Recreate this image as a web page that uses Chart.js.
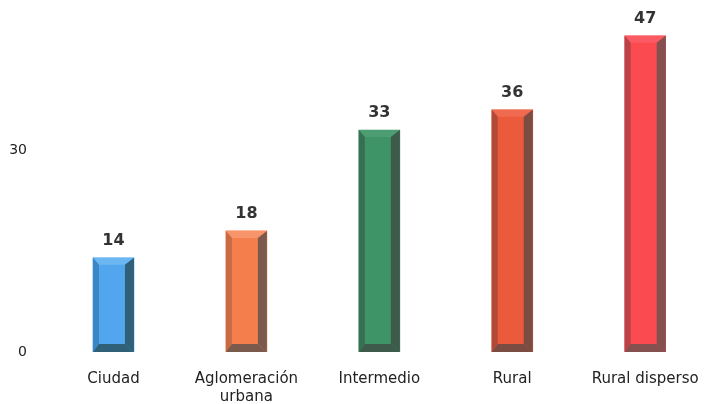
<!DOCTYPE html>
<html>
<head>
<meta charset="utf-8">
<script src="https://cdn.jsdelivr.net/npm/chart.js@4/dist/chart.umd.min.js"></script>
<style>
  html, body { margin: 0; padding: 0; background: #fff; }
  #wrap { width: 705px; height: 404px; position: relative; }
</style>
</head>
<body>
<div id="wrap"><canvas id="chart"></canvas></div>
<script>
const categories = ['Ciudad', ['Aglomeración', 'urbana'], 'Intermedio', 'Rural', 'Rural disperso'];
const values = [14, 18, 33, 36, 47];
const yTicks = [0, 30];

// face / light edge / dark edge per bar
const faceColors = ['#52a6ee', '#f57f4c', '#3e9466', '#ec5a3c', '#fb4a50'];
const lightColors = ['#6cb6f2', '#f8946a', '#4c9e72', '#ef6a4e', '#fc5a62'];
const leftColors = ['#3c86c4', '#c86a44', '#386f52', '#b04a38', '#b64448'];
const darkColors = ['#2f6078', '#7a5a4c', '#3d5a4a', '#7a4c42', '#855050'];

// bevel painter, uses the bar elements laid out by chart.js
const bevelPlugin = {
    id: 'bevel',
    afterDatasetsDraw(chart) {
        const ctx = chart.ctx;
        const meta = chart.getDatasetMeta(0);
        meta.data.forEach((bar, i) => {
            const p = bar.getProps(['x', 'y', 'base', 'width'], true);
            const l = p.x - p.width / 2, r = p.x + p.width / 2;
            const t = p.y, b = p.base;
            const bl = 6, br = 9, bt = 7, bb = 8;
            const poly = (pts, c) => {
                ctx.fillStyle = c;
                ctx.beginPath();
                ctx.moveTo(pts[0][0], pts[0][1]);
                pts.slice(1).forEach(q => ctx.lineTo(q[0], q[1]));
                ctx.closePath();
                ctx.fill();
            };
            ctx.save();
            poly([[l, t], [r, t], [r - br, t + bt], [l + bl, t + bt]], lightColors[i]);
            poly([[l, t], [l + bl, t + bt], [l + bl, b - bb], [l, b]], leftColors[i]);
            poly([[r, t], [r, b], [r - br, b - bb], [r - br, t + bt]], darkColors[i]);
            poly([[l, b], [l + bl, b - bb], [r - br, b - bb], [r, b]], darkColors[i]);
            ctx.restore();
        });
    }
};

const valueLabels = {
    id: 'valueLabels',
    afterDatasetsDraw(chart) {
        const ctx = chart.ctx;
        const meta = chart.getDatasetMeta(0);
        ctx.save();
        ctx.font = 'bold 16px "DejaVu Sans", sans-serif';
        ctx.fillStyle = '#333';
        ctx.textAlign = 'center';
        ctx.textBaseline = 'bottom';
        meta.data.forEach((bar, i) => {
            ctx.fillText(values[i], bar.x, bar.y - 9);
        });
        ctx.restore();
    }
};

new Chart(document.getElementById('chart'), {
    type: 'bar',
    data: {
        datasets: [{
            data: values.map((v, i) => ({ x: i, y: v })),
            backgroundColor: faceColors,
            borderWidth: 0,
            barThickness: 41
        }]
    },
    options: {
        responsive: true,
        maintainAspectRatio: false,
        animation: false,
        layout: { padding: 0 },
        plugins: { legend: { display: false }, tooltip: { enabled: false } },
        scales: {
            x: {
                type: 'linear',
                offset: false,
                min: -0.5,
                max: 4.45,
                grid: { display: false },
                border: { display: false },
                afterBuildTicks: s => { s.ticks = s.ticks.filter(t => Number.isInteger(t.value)); },
                afterFit: s => {
                    s.height = 52;
                    s.paddingLeft = 0;
                    s.paddingRight = 0;
                },
                ticks: {
                    autoSkip: false,
                    maxRotation: 0,
                    padding: 10,
                    color: '#222',
                    font: { family: '"DejaVu Sans", sans-serif', size: 15 },
                    callback: v => categories[v]
                }
            },
            y: {
                min: 0,
                max: 49.3,
                grid: { display: false },
                border: { display: false },
                afterBuildTicks: s => { s.ticks = yTicks.map(v => ({ value: v })); },
                afterFit: s => { s.width = 47; },
                ticks: {
                    padding: 12,
                    color: '#222',
                    font: { family: '"DejaVu Sans", sans-serif', size: 14 }
                }
            }
        }
    },
    plugins: [bevelPlugin, valueLabels]
});
</script>
</body>
</html>
